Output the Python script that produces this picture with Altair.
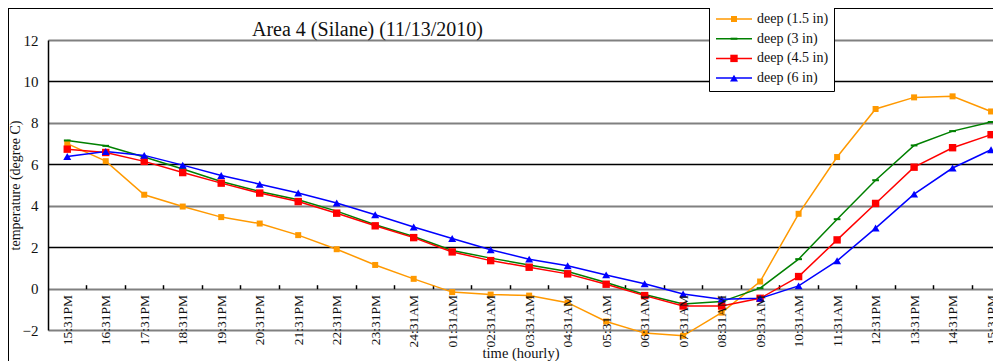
import altair as alt
import pandas as pd

labels = ["15:31PM", "16:31PM", "17:31PM", "18:31PM", "19:31PM", "20:31PM", "21:31PM",
          "22:31PM", "23:31PM", "24:31AM", "01:31AM", "02:31AM", "03:31AM", "04:31AM",
          "05:31AM", "06:31AM", "07:31AM", "08:31AM", "09:31AM", "10:31AM", "11:31AM",
          "12:31PM", "13:31PM", "14:31PM", "15:31PM"]

series_names = ["deep (1.5 in)", "deep (3 in)", "deep (4.5 in)", "deep (6 in)"]

deep_1_5 = [7.0, 6.15, 4.53, 3.96, 3.45, 3.14, 2.58, 1.90, 1.14, 0.47, -0.17, -0.29, -0.34,
            -0.68, -1.59, -2.15, -2.28, -1.16, 0.34, 3.61, 6.35, 8.67, 9.23, 9.28, 8.55]
deep_3 = [7.15, 6.89, 6.35, 5.77, 5.17, 4.69, 4.29, 3.74, 3.08, 2.51, 1.84, 1.47, 1.14,
          0.82, 0.29, -0.29, -0.74, -0.63, 0.02, 1.42, 3.35, 5.23, 6.91, 7.60, 8.04]
deep_4_5 = [6.73, 6.57, 6.14, 5.60, 5.09, 4.61, 4.20, 3.64, 3.03, 2.46, 1.77, 1.35, 1.03,
            0.71, 0.21, -0.34, -0.84, -0.84, -0.47, 0.58, 2.35, 4.11, 5.86, 6.80, 7.43]
deep_6 = [6.38, 6.62, 6.43, 5.96, 5.46, 5.04, 4.61, 4.13, 3.56, 2.97, 2.42, 1.87, 1.42,
          1.10, 0.66, 0.23, -0.26, -0.51, -0.47, 0.13, 1.34, 2.92, 4.56, 5.82, 6.70]

colors = ["#FF9900", "#008000", "#FF0000", "#0000FF"]

# plot markers per series
marker_shapes = ["square", "M-1,-0.3H1V0.3H-1Z", "square", "triangle-up"]
marker_sizes = [36, 64, 100, 110]

rows = []
for name, vals in zip(series_names, [deep_1_5, deep_3, deep_4_5, deep_6]):
    for i, v in enumerate(vals):
        rows.append({"idx": i, "series": name, "temp": v})
df = pd.DataFrame(rows)

FONT = "Liberation Serif"
label_expr = "[" + ",".join("'%s'" % l for l in labels) + "][datum.value]"
marker_keys = [n + " " for n in series_names]  # separate domain so the marker legend stays apart

x_scale = alt.Scale(domain=[-0.5, 24.05], nice=False, zero=False)
y_scale = alt.Scale(domain=[-2, 12], nice=False, zero=False)

x_label_axis = alt.Axis(
    values=list(range(25)), labelExpr=label_expr, labelAngle=270, labelFont=FONT,
    labelFontSize=13.5, labelColor="#111", labelPadding=6, labelOverlap=False,
    labelFlush=False, ticks=False, domain=False, grid=False, offset=-41.6,
    title="time (hourly)", titleFont=FONT, titleFontSize=14.5, titleFontWeight="normal",
    titleColor="#111", titlePadding=0, zindex=1,
)
x_tick_axis = alt.Axis(
    orient="top", values=[i + 0.5 for i in range(24)], labels=False, ticks=True,
    tickSize=4, tickColor="black", tickWidth=1.5, domain=False, grid=False,
    offset=-248.7, title=None,
)
y_axis = alt.Axis(
    values=list(range(-2, 13, 2)), labelFont=FONT, labelFontSize=15, labelColor="#111",
    labelPadding=10, ticks=False, domainColor="black", domainWidth=1.5, grid=True,
    gridColor={"condition": {"test": "datum.value % 4 === 0 || datum.value < 0", "value": "#808080"}, "value": "black"},
    gridWidth={"condition": {"test": "datum.value % 4 === 0 || datum.value < 0", "value": 2}, "value": 1.3},
    gridOpacity=1, title="temperature (degree C)", titleFont=FONT, titleFontSize=14,
    titleFontWeight="normal", titleColor="#111", titlePadding=0,
)

# legend A: box, line segments and labels
leg_lines = alt.Legend(
    title=None, orient="none", legendX=661, legendY=-33, fillColor="white",
    strokeColor="black", padding=5, labelFont=FONT, labelFontSize=14, labelColor="#111",
    symbolType="M-3.6,0H3.6", symbolSize=100, symbolStrokeWidth=1.5, rowPadding=5.7,
    symbolOffset=13, labelOffset=16, zindex=1,
)
# legend B: markers only, drawn over legend A
leg_marks = alt.Legend(
    title=None, orient="none", legendX=661, legendY=-33, padding=5, labelFont=FONT,
    labelFontSize=14, labelOpacity=0, symbolStrokeWidth=0, symbolOpacity=1,
    rowPadding=5.7, symbolOffset=13, labelOffset=16, zindex=2,
)

base = alt.Chart(df)

lines = base.mark_line(strokeWidth=1.5).encode(
    x=alt.X("idx:Q", scale=x_scale, axis=x_label_axis),
    y=alt.Y("temp:Q", scale=y_scale, axis=y_axis),
    color=alt.Color("series:N", scale=alt.Scale(domain=series_names, range=colors), legend=leg_lines),
)

ticks_layer = base.transform_filter(alt.datum.idx < 0).mark_point(opacity=0).encode(
    x=alt.X("idx:Q", scale=x_scale, axis=x_tick_axis),
    y=alt.Y("temp:Q", scale=y_scale),
)

markers = base.transform_calculate(mkey="datum.series + ' '").mark_point(
    filled=True, opacity=1, strokeWidth=0
).encode(
    x=alt.X("idx:Q", scale=x_scale, axis=None),
    y=alt.Y("temp:Q", scale=y_scale),
    fill=alt.Fill("mkey:N", scale=alt.Scale(domain=marker_keys, range=colors), legend=leg_marks),
    shape=alt.Shape("mkey:N", scale=alt.Scale(domain=marker_keys, range=marker_shapes), legend=leg_marks),
    size=alt.Size("mkey:N", scale=alt.Scale(domain=marker_keys, range=marker_sizes), legend=leg_marks),
)

frame = pd.DataFrame({"k": [0]})
border_left = alt.Chart(frame).mark_rule(color="black", strokeWidth=2).encode(
    x=alt.value(-40), y=alt.value(-32), y2=alt.value(330)
)
border_top = alt.Chart(frame).mark_rule(color="black", strokeWidth=2).encode(
    x=alt.value(-40), x2=alt.value(945), y=alt.value(-32)
)

chart = alt.layer(
    lines, ticks_layer, markers, border_left, border_top
).resolve_axis(x="independent").properties(
    width=945, height=290,
    autosize=alt.AutoSizeParams(type="none"),
    padding={"left": 40, "top": 32, "right": 0, "bottom": 31},
    title=alt.TitleParams(
        "Area 4 (Silane) (11/13/2010)", font=FONT, fontSize=20, fontWeight="normal",
        color="#111", anchor="start", dx=245, offset=-33,
    ),
    background="white",
).configure_view(stroke=None).configure_axis(labelFont=FONT, titleFont=FONT)

chart.save("out.html", embed_options={"renderer": "svg", "actions": False})
